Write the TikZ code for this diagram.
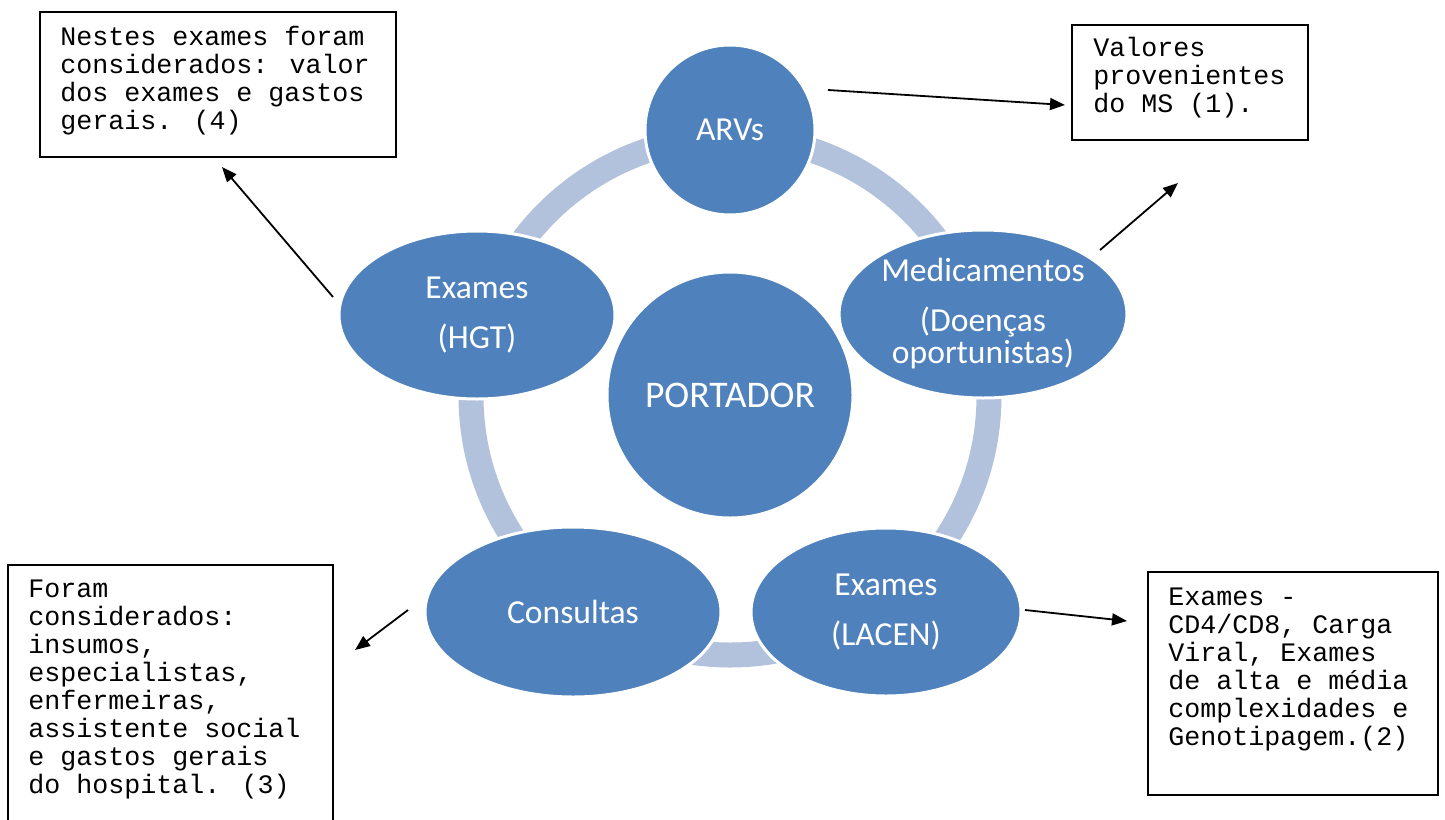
\documentclass[tikz,border=0pt]{standalone}
\usepackage{fontspec}
\setmainfont{Carlito}
\newfontfamily\monofont{Liberation Mono}
\usetikzlibrary{shapes.geometric,arrows.meta}
\definecolor{nodeblue}{HTML}{4F81BD}
\definecolor{ringblue}{HTML}{B3C2DC}
\begin{document}
\begin{tikzpicture}[x=0.5pt,y=-0.5pt,
  bubble/.style={ellipse,fill=nodeblue,draw=white,line width=1.5pt,inner sep=0pt,text=white,align=center,font=\fontsize{16.8}{16}\selectfont},
  note/.style={draw=black,line width=0.75pt},
  notetext/.style={anchor=north west,inner sep=0pt,align=left,font=\monofont\fontsize{13.33}{14}\selectfont},
  pointer/.style={-{Triangle[length=7.5pt,width=6pt]},line width=0.9pt}]
\useasboundingbox (0,0) rectangle (1445,819);
\draw[ringblue,line width=12.5pt] (730,396) circle[radius=259];
\node[bubble,circle,minimum size=85pt] (arv) at (730,130) {ARVs};
\node[bubble,circle,minimum size=123pt,font=\fontsize{18.8}{18}\selectfont] (port) at (730,395) {PORTADOR};
\node[bubble,minimum width=140pt,minimum height=84pt] (med) at (983,314) {Medicamentos\\[9pt](Doenças\\oportunistas)};
\node[bubble,minimum width=138pt,minimum height=84pt] (hgt) at (477,315) {Exames\\[9pt](HGT)};
\node[bubble,minimum width=135pt,minimum height=84pt] (lacen) at (886,612) {Exames\\[9pt](LACEN)};
\node[bubble,minimum width=148pt,minimum height=85pt] (cons) at (573,612) {Consultas};
% note boxes
\draw[note] (40,12) rectangle (396,157);
\node[notetext] (t4) at (60,23) {\rule{0pt}{11pt}Nestes exames foram\\considerados: valor\\dos exames e gastos\\gerais. (4)};
\draw[note] (1072,25) rectangle (1308,140);
\node[notetext] (t1) at (1093,34) {\rule{0pt}{11pt}Valores\\provenientes\\do MS (1).};
\draw[note] (8,830) -- (8,565) -- (333,565) -- (333,830);
\node[notetext] (t3) at (28,575) {\rule{0pt}{11pt}Foram\\considerados:\\insumos,\\especialistas,\\enfermeiras,\\assistente social\\e gastos gerais\\do hospital. (3)};
\draw[note] (1148,572) rectangle (1438,795);
\node[notetext] (t2) at (1168,583) {\rule{0pt}{11pt}Exames -\\CD4/CD8, Carga\\Viral, Exames\\de alta e média\\complexidades e\\Genotipagem.(2)};
% arrows
\coordinate (a1s) at (828,90);  \coordinate (a1e) at (1065,105);
\coordinate (a2s) at (1100,250); \coordinate (a2e) at (1178,183);
\coordinate (a3s) at (1025,610); \coordinate (a3e) at (1127,621);
\coordinate (a4s) at (408,610);  \coordinate (a4e) at (355,650);
\coordinate (a5s) at (333,297);  \coordinate (a5e) at (222,167);
\draw[pointer] (a1s) -- (a1e);
\draw[pointer] (a2s) -- (a2e);
\draw[pointer] (a3s) -- (a3e);
\draw[pointer] (a4s) -- (a4e);
\draw[pointer] (a5s) -- (a5e);
\end{tikzpicture}
\end{document}
